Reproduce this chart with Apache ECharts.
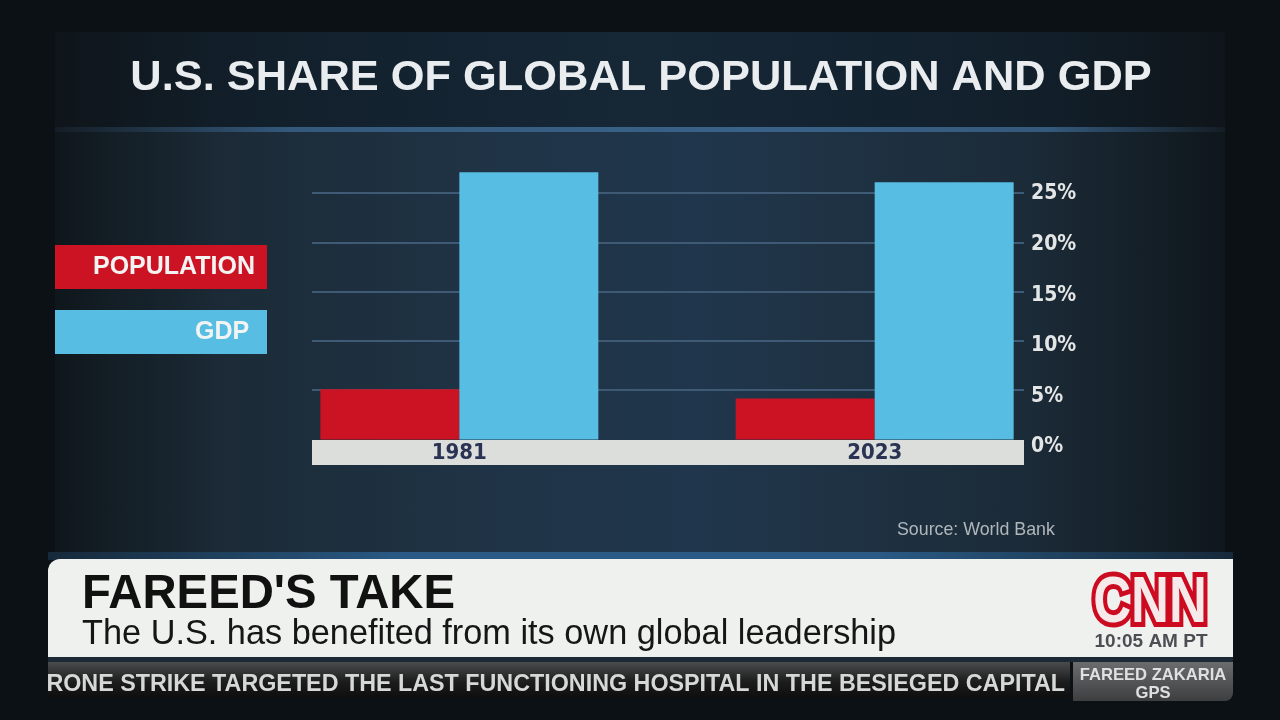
<!DOCTYPE html>
<html>
<head>
<meta charset="utf-8">
<title>U.S. share of global population and GDP</title>
<script src="https://cdn.jsdelivr.net/npm/echarts@6/dist/echarts.min.js"></script>
<style>
  html, body { margin: 0; padding: 0; background: #0b1115; }
  #main {
    width: 1280px;
    height: 720px;
    background:
      linear-gradient(90deg, #141d25 0, #34597c 20%, #3a6288 60%, #34597c 85%, #141d25 100%) 55px 127px / 1170px 5px no-repeat,
      linear-gradient(90deg, #16293a 0, #2a5a85 30%, #2a5a85 70%, #16293a 100%) 48px 552px / 1185px 8px no-repeat,
      linear-gradient(#1c2a36, #1c2a36) 48px 657px / 1185px 5px no-repeat,
      linear-gradient(90deg, #0f171c 0, #1b2a36 14%, #1f3345 35%, #20364c 55%, #1f3345 65%, #1b2a37 84%, #0f171c 100%) 55px 130px / 1170px 425px no-repeat,
      linear-gradient(90deg, #0f151a 0, #12202c 18%, #162736 50%, #12202c 82%, #0f151a 100%) 55px 32px / 1170px 95px no-repeat,
      #0b1115;
  }
</style>
</head>
<body>
<div id="main"></div>
<script>
var years = [1981, 2023];
var population = [5.1, 4.15];
var gdp = [27.1, 26.1];
var tickLabels = ["0%", "5%", "10%", "15%", "20%", "25%"];

var chart = echarts.init(document.getElementById("main"));

function pairs(values) {
  return years.map(function (y, i) {
    return [y, values[i]];
  });
}

chart.setOption({
  animation: false,
  backgroundColor: "transparent",
  title: {
    text: "U.S. SHARE OF GLOBAL POPULATION AND GDP",
    left: 636,
    textAlign: "center",
    top: 52,
    textStyle: {
      color: "#e9edef",
      fontFamily: "Liberation Sans",
      fontWeight: "bold",
      fontSize: 43.4,
    },
  },
  legend: {
    left: 50,
    top: 240,
    orient: "vertical",
    itemWidth: 212,
    itemHeight: 44,
    itemGap: 21,
    selectedMode: false,
    icon: "rect",
    textStyle: {
      color: "#f2f4f4",
      fontFamily: "Liberation Sans",
      fontWeight: "bold",
      fontSize: 25,
    },
    data: [
      { name: "POPULATION", textStyle: { padding: [8, 0, 0, -179] } },
      { name: "GDP", textStyle: { padding: [8, 0, 0, -77] } },
    ],
  },
  grid: [
    { left: 312, width: 712, top: 163.4, height: 276.1 },
    // the tick labels sit on their own slightly taller scale, as in the broadcast graphic
    { left: 312, width: 712, top: 194, height: 253 },
  ],
  xAxis: [
    {
      type: "value",
      min: 1966.1,
      max: 2038.1,
      offset: 12.5,
      axisLine: {
        show: true,
        onZero: false,
        lineStyle: { color: "#dcdedb", width: 25, cap: "butt" },
      },
      axisTick: { show: false },
      splitLine: { show: false },
      axisLabel: {
        customValues: years,
        formatter: function (v) {
          return String(v);
        },
        color: "#2a3353",
        fontFamily: "DejaVu Sans Condensed",
        fontWeight: "bold",
        fontSize: 22,
        margin: -10,
      },
    },
    {
      type: "value",
      gridIndex: 1,
      min: 0,
      max: 1,
      show: false,
    },
  ],
  yAxis: [
    {
      type: "value",
      min: 0,
      max: 28,
      interval: 5,
      axisLine: { show: false },
      axisTick: { show: false },
      axisLabel: { show: false },
      splitLine: {
        show: true,
        showMinLine: false,
        showMaxLine: false,
        lineStyle: { color: "#3f5a75", width: 2, cap: "butt" },
      },
    },
    {
      type: "value",
      gridIndex: 1,
      position: "right",
      min: 0,
      max: 25,
      interval: 5,
      axisLine: { show: false },
      axisTick: { show: false },
      splitLine: { show: false },
      axisLabel: {
        margin: 7,
        color: "#e4e6e6",
        fontFamily: "DejaVu Sans Condensed",
        fontWeight: "bold",
        fontSize: 21,
        formatter: function (v) {
          return tickLabels[v / 5];
        },
      },
    },
  ],
  series: [
    {
      name: "POPULATION",
      type: "bar",
      data: pairs(population),
      barWidth: 139,
      barGap: 0,
      itemStyle: { color: "#cc1323" },
    },
    {
      name: "GDP",
      type: "bar",
      data: pairs(gdp),
      barWidth: 139,
      barGap: 0,
      itemStyle: { color: "#57bde3" },
    },
  ],
  graphic: [
    {
      type: "text",
      x: 897,
      y: 530,
      style: {
        text: "Source: World Bank",
        fill: "#b0b7bb",
        verticalAlign: "middle",
        font: "17.8px 'Liberation Sans'",
      },
    },
    {
      type: "rect",
      shape: { x: 48, y: 559, width: 1185, height: 98, r: [12, 0, 0, 0] },
      style: { fill: "#eff1ef" },
      z: 10,
    },
    {
      type: "text",
      x: 82,
      y: 595,
      z: 11,
      style: {
        text: "FAREED'S TAKE",
        fill: "#111111",
        verticalAlign: "middle",
        font: "bold 47.3px 'Liberation Sans'",
      },
    },
    {
      type: "text",
      x: 82,
      y: 635,
      z: 11,
      style: {
        text: "The U.S. has benefited from its own global leadership",
        fill: "#161616",
        verticalAlign: "middle",
        font: "34.3px 'Liberation Sans'",
      },
    },
    {
      type: "text",
      x: 1150,
      y: 604,
      scaleX: 0.82,
      z: 11,
      style: {
        text: "CNN",
        fill: "#f6e9ea",
        stroke: "#cc0a20",
        lineWidth: 10,
        align: "center",
        verticalAlign: "middle",
        font: "bold 64px 'Liberation Sans'",
      },
    },
    {
      type: "text",
      x: 1151,
      y: 642,
      z: 11,
      style: {
        text: "10:05 AM PT",
        fill: "#4b4f53",
        align: "center",
        verticalAlign: "middle",
        font: "bold 19px 'Liberation Sans'",
      },
    },
    {
      type: "rect",
      shape: { x: 48, y: 662, width: 1022, height: 36 },
      style: {
        fill: {
          type: "linear", x: 0, y: 0, x2: 0, y2: 1,
          colorStops: [
            { offset: 0, color: "#4a4c4d" },
            { offset: 0.55, color: "#1c1c1c" },
            { offset: 1, color: "#0e0e0e" },
          ],
        },
      },
      z: 10,
    },
    {
      type: "text",
      x: 1065,
      y: 685,
      z: 11,
      style: {
        text: "RONE STRIKE TARGETED THE LAST FUNCTIONING HOSPITAL IN THE BESIEGED CAPITAL",
        fill: "#d6d7d7",
        align: "right",
        verticalAlign: "middle",
        font: "bold 23.3px 'Liberation Sans'",
      },
    },
    {
      type: "rect",
      shape: { x: 1073, y: 662, width: 160, height: 39, r: [0, 0, 8, 0] },
      style: {
        fill: {
          type: "linear", x: 0, y: 0, x2: 0, y2: 1,
          colorStops: [
            { offset: 0, color: "#6a6c6d" },
            { offset: 1, color: "#3c3e40" },
          ],
        },
      },
      z: 10,
    },
    {
      type: "text",
      x: 1153,
      y: 684,
      z: 11,
      style: {
        text: "FAREED ZAKARIA\nGPS",
        fill: "#dfe0e0",
        align: "center",
        verticalAlign: "middle",
        lineHeight: 18,
        font: "bold 16.6px 'Liberation Sans'",
      },
    },
  ],
});
</script>
</body>
</html>
